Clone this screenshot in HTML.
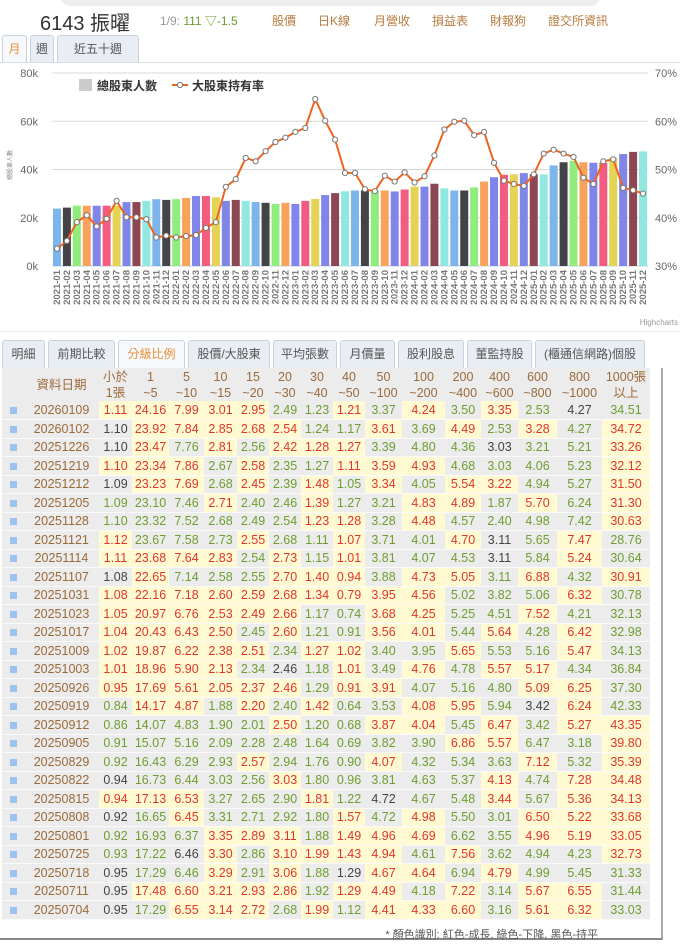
<!DOCTYPE html>
<html><head><meta charset="utf-8">
<style>
*{box-sizing:border-box;margin:0;padding:0}
body{width:680px;height:944px;background:#fff;font-family:"Liberation Sans","Noto Sans CJK TC",sans-serif;position:relative;overflow:hidden;color:#333}
.abs{position:absolute}
.topbar{left:60px;top:-14px;width:540px;height:20px;background:#eee;border-radius:10px}
.title{left:40px;top:7px;font-size:20px;color:#333}
.quote{left:160px;top:12px;font-size:12px;color:#999}
.quote b{color:#6a9a2a;font-weight:normal}
.nav{top:12px;font-size:12px;color:#b87a3e}
.tab{height:28px;border:1px solid #c9d2dc;border-bottom:none;border-radius:3px 3px 0 0;background:#e9eef4;font-size:12px;color:#555;text-align:center;line-height:27px}
.tab.on{color:#e7903b;background:#f6f8fb}
.tline{height:1px;background:#d8dde3}
table{border-collapse:collapse;font-size:12.5px;table-layout:fixed}
td{text-align:center;height:18.5px;padding:0;border-bottom:1px solid #fafafa;background:#ececec;white-space:nowrap;overflow:hidden}
td.r{color:#e0372b;background:#fffad2}
td.g{color:#6f9e30}
td.k{color:#444}
td.d{color:#9a6a3a}
th{font-weight:normal;color:#9a6a3a;font-size:12.5px;line-height:16px;height:33px;background:#ececec;white-space:nowrap;padding:0}
</style></head><body>
<div class="abs topbar"></div>
<div class="abs title">6143 振曜</div>
<div class="abs quote">1/9: <b>111 ▽-1.5</b></div>
<div class="abs nav" style="left:272px">股價</div>
<div class="abs nav" style="left:318px">日K線</div>
<div class="abs nav" style="left:374px">月營收</div>
<div class="abs nav" style="left:432px">損益表</div>
<div class="abs nav" style="left:490px">財報狗</div>
<div class="abs nav" style="left:548px">證交所資訊</div>

<div class="abs tab on" style="left:2px;top:35px;width:25px">月</div>
<div class="abs tab" style="left:30px;top:35px;width:24px">週</div>
<div class="abs tab" style="left:57px;top:35px;width:82px">近五十週</div>
<div class="abs tline" style="left:0;top:62px;width:680px"></div>

<svg id="chart" class="abs" style="left:0;top:0" width="680" height="335"></svg>

<div class="abs tline" style="left:0;top:331px;width:680px;background:#eee"></div>

<div class="abs tab" style="left:2px;top:340px;width:43px">明細</div>
<div class="abs tab" style="left:48px;top:340px;width:67px">前期比較</div>
<div class="abs tab on" style="left:118px;top:340px;width:67px">分級比例</div>
<div class="abs tab" style="left:188px;top:340px;width:82px">股價/大股東</div>
<div class="abs tab" style="left:273px;top:340px;width:64px">平均張數</div>
<div class="abs tab" style="left:340px;top:340px;width:55px">月價量</div>
<div class="abs tab" style="left:398px;top:340px;width:66px">股利股息</div>
<div class="abs tab" style="left:467px;top:340px;width:65px">董監持股</div>
<div class="abs tab" style="left:535px;top:340px;width:110px">(櫃通信網路)個股</div>

<div class="abs" style="left:0;top:368px;width:663px;height:572px;border:1px solid #ccc;border-top:none;border-left:none;border-bottom:2px solid #888;border-right:2px solid #aaa"></div>
<div class="abs" style="left:2px;top:368px;width:656px">
<table id="tbl" style="width:648px">
<colgroup><col style="width:22px"><col style="width:75px"><col style="width:33px"><col style="width:37px"><col style="width:35px"><col style="width:33px"><col style="width:32px"><col style="width:32px"><col style="width:32px"><col style="width:32px"><col style="width:37px"><col style="width:43px"><col style="width:36px"><col style="width:37px"><col style="width:39px"><col style="width:45px"><col style="width:48px"></colgroup>
<thead><tr>
<th></th><th>資料日期</th><th>小於<br>1張</th><th>1<br>~5</th><th>5<br>~10</th><th>10<br>~15</th><th>15<br>~20</th><th>20<br>~30</th><th>30<br>~40</th><th>40<br>~50</th><th>50<br>~100</th><th>100<br>~200</th><th>200<br>~400</th><th>400<br>~600</th><th>600<br>~800</th><th>800<br>~1000</th><th>1000張<br>以上</th>
</tr></thead><tbody id="tb"></tbody></table>
<div style="text-align:right;padding-right:60px;font-size:11px;color:#555;margin-top:6px">* 顏色識別: 紅色-成長, 綠色-下降, 黑色-持平</div>
</div>

<script>
// ---------- Chart data ----------
const months = [];
for (let y = 2021; y <= 2025; y++) for (let m = 1; m <= 12; m++) months.push(y + '-' + (m < 10 ? '0' + m : m));
const holders = [23.8,24.2,25,25,25,25,25,26.5,26.5,27,27.7,27.4,27.7,28.2,29,29,28.5,27,27.4,27,26.5,26.2,25.7,26.2,25.7,27,27.8,29.4,30.2,31,31.3,31.3,31.3,31.3,30.9,31.7,32.9,32.9,34.1,32.2,31.3,31.3,32.6,35,36.8,37.8,38,38.5,38,38,41.7,43,43.6,43,42.8,42.8,45,46.4,47.3,47.5];
const majorPct = [33.6,35.2,39.1,40.5,38.2,39.8,43.5,40.1,40.1,39.7,35.9,36.3,35.9,36.2,36.4,37.9,39.1,46.4,48,52.4,51.7,53.8,55.7,56.6,57.8,58.6,64.6,60.1,56.2,49.3,49.3,45.9,45.5,48.7,47.5,49.4,47.3,48.6,52.9,58.3,59.9,60.1,57.1,57.8,51.4,47.7,47,46.6,49,53.3,54.1,53.3,52.6,48.3,47,51.7,52.1,46.2,45.7,45];
const leftTicks = ['0k','20k','40k','60k','80k'];
const rightTicks = ['30%','40%','50%','60%','70%'];
const palette = ['#7cb5ec','#434348','#90ed7d','#f7a35c','#8085e9','#f15c80','#e4d354','#8085e8','#8d4653','#91e8e1'];

const NS = 'http://www.w3.org/2000/svg';
const svg = document.getElementById('chart');
const X0 = 52, X1 = 648, Y0 = 266, Y1 = 73;
const slot = (X1 - X0) / months.length;
const xC = i => X0 + slot * (i + 0.5);
const yL = v => Y0 - (v / 80) * (Y0 - Y1);
const yR = v => Y0 - ((v - 30) / 40) * (Y0 - Y1);
function mk(tag, attrs, txt) {
  const e = document.createElementNS(NS, tag);
  for (const k in attrs) e.setAttribute(k, attrs[k]);
  if (txt !== undefined) e.textContent = txt;
  svg.appendChild(e);
  return e;
}
leftTicks.forEach((t, i) => {
  const y = Y0 - i * (Y0 - Y1) / 4;
  const g = mk('line', {x1: X0, x2: X1, y1: y, y2: y, stroke: i === 0 ? '#c0d0e0' : '#d8d8d8', 'stroke-width': 1});
  
  
  const l = mk('text', {x: 38, y: y + 4, 'text-anchor': 'end', 'font-size': 11, fill: '#666'}, t);
  
  
  const r = mk('text', {x: 655, y: y + 4, 'font-size': 11, fill: '#666'}, rightTicks[i]);
  
  
});
const yt = mk('text', {x: 12, y: 165, 'font-size': 6, fill: '#888', transform: 'rotate(-90 12 165)', 'text-anchor': 'middle'}, '總股東人數');



holders.forEach((v, i) => {
  const b = mk('rect', {x: xC(i) - 4, y: yL(v), width: 8, height: Y0 - yL(v), fill: palette[i % 10]});
  
  
});
months.forEach((m, i) => {
  const x = xC(i) + 3;
  const t = mk('text', {x: x, y: 270, 'font-size': 9.5, 'font-weight': 'bold', fill: '#777', 'text-anchor': 'end', transform: 'rotate(-90 ' + x + ' 270)'}, m);
  
  
});
const pts = majorPct.map((v, i) => xC(i).toFixed(1) + ',' + yR(v).toFixed(1)).join(' ');
const pl = mk('polyline', {points: pts, fill: 'none', stroke: '#f0641e', 'stroke-width': 2});


majorPct.forEach((v, i) => {
  const c = mk('circle', {cx: xC(i), cy: yR(v), r: 2.6, fill: '#fff', stroke: '#777', 'stroke-width': 1});
  
  
});
const lg1 = mk('rect', {x: 79, y: 79, width: 13, height: 12, fill: '#ccc'});


const lt1 = mk('text', {x: 97, y: 90, 'font-size': 12, 'font-weight': 'bold', fill: '#333'}, '總股東人數');


const lg2 = mk('line', {x1: 172, x2: 188, y1: 85, y2: 85, stroke: '#f0641e', 'stroke-width': 2});


const lgc = mk('circle', {cx: 180, cy: 85, r: 2.6, fill: '#fff', stroke: '#777'});


const lt2 = mk('text', {x: 192, y: 90, 'font-size': 12, 'font-weight': 'bold', fill: '#333'}, '大股東持有率');


const hc = mk('text', {x: 678, y: 325, 'font-size': 8, fill: '#999', 'text-anchor': 'end'}, 'Highcharts');



// ---------- Table data ----------
const dates = ['20260109','20260102','20251226','20251219','20251212','20251205','20251128','20251121','20251114','20251107','20251031','20251023','20251017','20251009','20251003','20250926','20250919','20250912','20250905','20250829','20250822','20250815','20250808','20250801','20250725','20250718','20250711','20250704'];
const rowsTxt = [
'1.11 24.16 7.99 3.01 2.95 2.49 1.23 1.21 3.37 4.24 3.50 3.35 2.53 4.27 34.51',
'1.10 23.92 7.84 2.85 2.68 2.54 1.24 1.17 3.61 3.69 4.49 2.53 3.28 4.27 34.72',
'1.10 23.47 7.76 2.81 2.56 2.42 1.28 1.27 3.39 4.80 4.36 3.03 3.21 5.21 33.26',
'1.10 23.34 7.86 2.67 2.58 2.35 1.27 1.11 3.59 4.93 4.68 3.03 4.06 5.23 32.12',
'1.09 23.23 7.69 2.68 2.45 2.39 1.48 1.05 3.34 4.05 5.54 3.22 4.94 5.27 31.50',
'1.09 23.10 7.46 2.71 2.40 2.46 1.39 1.27 3.21 4.83 4.89 1.87 5.70 6.24 31.30',
'1.10 23.32 7.52 2.68 2.49 2.54 1.23 1.28 3.28 4.48 4.57 2.40 4.98 7.42 30.63',
'1.12 23.67 7.58 2.73 2.55 2.68 1.11 1.07 3.71 4.01 4.70 3.11 5.65 7.47 28.76',
'1.11 23.68 7.64 2.83 2.54 2.73 1.15 1.01 3.81 4.07 4.53 3.11 5.84 5.24 30.64',
'1.08 22.65 7.14 2.58 2.55 2.70 1.40 0.94 3.88 4.73 5.05 3.11 6.88 4.32 30.91',
'1.08 22.16 7.18 2.60 2.59 2.68 1.34 0.79 3.95 4.56 5.02 3.82 5.06 6.32 30.78',
'1.05 20.97 6.76 2.53 2.49 2.66 1.17 0.74 3.68 4.25 5.25 4.51 7.52 4.21 32.13',
'1.04 20.43 6.43 2.50 2.45 2.60 1.21 0.91 3.56 4.01 5.44 5.64 4.28 6.42 32.98',
'1.02 19.87 6.22 2.38 2.51 2.34 1.27 1.02 3.40 3.95 5.65 5.53 5.16 5.47 34.13',
'1.01 18.96 5.90 2.13 2.34 2.46 1.18 1.01 3.49 4.76 4.78 5.57 5.17 4.34 36.84',
'0.95 17.69 5.61 2.05 2.37 2.46 1.29 0.91 3.91 4.07 5.16 4.80 5.09 6.25 37.30',
'0.84 14.17 4.87 1.88 2.20 2.40 1.42 0.64 3.53 4.08 5.95 5.94 3.42 6.24 42.33',
'0.86 14.07 4.83 1.90 2.01 2.50 1.20 0.68 3.87 4.04 5.45 6.47 3.42 5.27 43.35',
'0.91 15.07 5.16 2.09 2.28 2.48 1.64 0.69 3.82 3.90 6.86 5.57 6.47 3.18 39.80',
'0.92 16.43 6.29 2.93 2.57 2.94 1.76 0.90 4.07 4.32 5.34 3.63 7.12 5.32 35.39',
'0.94 16.73 6.44 3.03 2.56 3.03 1.80 0.96 3.81 4.63 5.37 4.13 4.74 7.28 34.48',
'0.94 17.13 6.53 3.27 2.65 2.90 1.81 1.22 4.72 4.67 5.48 3.44 5.67 5.36 34.13',
'0.92 16.65 6.45 3.31 2.71 2.92 1.80 1.57 4.72 4.98 5.50 3.01 6.50 5.22 33.68',
'0.92 16.93 6.37 3.35 2.89 3.11 1.88 1.49 4.96 4.69 6.62 3.55 4.96 5.19 33.05',
'0.93 17.22 6.46 3.30 2.86 3.10 1.99 1.43 4.94 4.61 7.56 3.62 4.94 4.23 32.73',
'0.95 17.29 6.46 3.29 2.91 3.06 1.88 1.29 4.67 4.64 6.94 4.79 4.99 5.45 31.33',
'0.95 17.48 6.60 3.21 2.93 2.86 1.92 1.29 4.49 4.18 7.22 3.14 5.67 6.55 31.44',
'0.95 17.29 6.55 3.14 2.72 2.68 1.99 1.12 4.41 4.33 6.60 3.16 5.61 6.32 33.03'];
const lastRowColors = 'k g r r r g r g r r r g r r g'.split(' ');
const rows = rowsTxt.map(s => s.split(' '));
const tb = document.getElementById('tb');
rows.forEach((r, i) => {
  const tr = document.createElement('tr');
  
  
  const ic = document.createElement('td');
  ic.innerHTML = '<span style="display:inline-block;width:7px;height:7px;background:#9cc3ee"></span>';
  tr.appendChild(ic);
  const dt = document.createElement('td');
  dt.className = 'd';
  dt.textContent = dates[i];
  tr.appendChild(dt);
  r.forEach((v, j) => {
    const td = document.createElement('td');
    let c;
    if (i + 1 < rows.length) {
      const p = parseFloat(rows[i + 1][j]), n = parseFloat(v);
      c = n > p ? 'r' : (n < p ? 'g' : 'k');
    } else c = lastRowColors[j];
    td.className = c;
    td.textContent = v;
    
    
    tr.appendChild(td);
  });
  tb.appendChild(tr);
});
</script>
</body></html>
